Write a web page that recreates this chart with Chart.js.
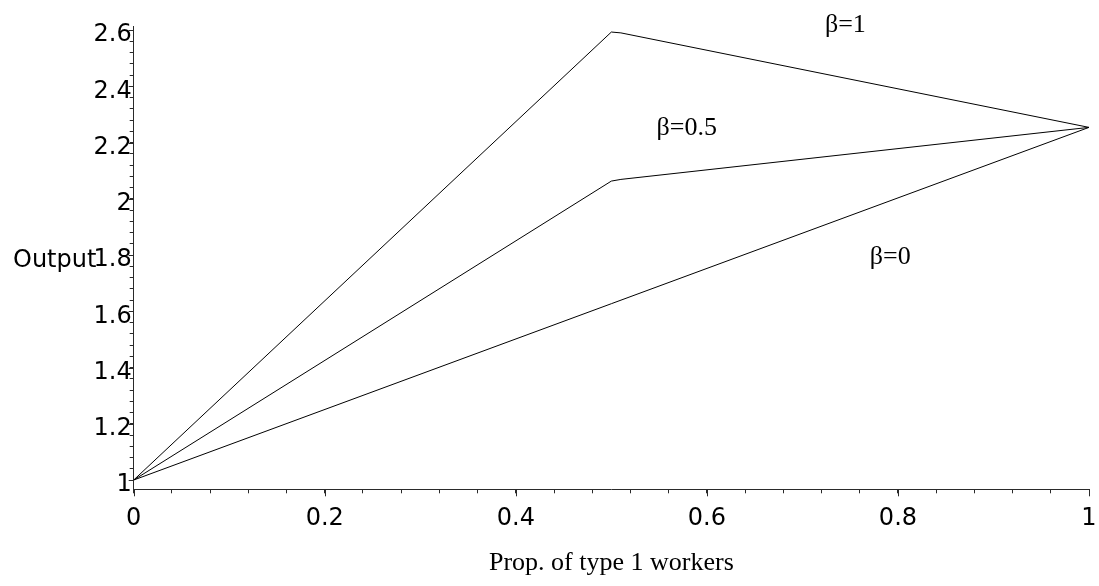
<!DOCTYPE html>
<html><head><meta charset="utf-8">
<script src="https://cdn.jsdelivr.net/npm/chart.js@4.4.1/dist/chart.umd.min.js"></script>
<style>html,body{margin:0;padding:0;background:#fff;}canvas{display:block}</style>
</head><body>
<canvas id="c" width="1099" height="586"></canvas>
<script>
// ---- data ----
const xTickLabels = ['0', '0.2', '0.4', '0.6', '0.8', '1'];
const yTickLabels = ['1', '1.2', '1.4', '1.6', '1.8', '2', '2.2', '2.4', '2.6'];

const propBeta1 = [0, 0.5, 0.51, 1];
const outputBeta1 = [1, 2.593, 2.59, 2.254];

const propBeta05 = [0, 0.5, 0.51, 1];
const outputBeta05 = [1, 2.063, 2.069, 2.254];

const propBeta0 = [0, 1];
const outputBeta0 = [1, 2.254];

const seriesNames = ['β=1', 'β=0.5', 'β=0'];
const xTitle = 'Prop. of type 1 workers';
const yTitle = 'Output';

// label anchor points (data coordinates)
const annotations = [
  { text: seriesNames[0], x: 0.745, y: 2.617 },
  { text: seriesNames[1], x: 0.579, y: 2.252 },
  { text: seriesNames[2], x: 0.792, y: 1.792 }
];

const SANS = '"DejaVu Sans", Verdana, sans-serif';
const SERIF = '"Liberation Serif", "Times New Roman", serif';
const AXIS_COLOR = '#2a2a2a';

function toPts(xs, ys) { return xs.map((x, i) => ({ x: x, y: ys[i] })); }
const xMajor = xTickLabels.map(Number);
const yMajor = yTickLabels.map(Number);
function labelFor(v, majors, labels) {
  const i = majors.findIndex(m => Math.abs(m - v) < 1e-6);
  return i >= 0 ? labels[i] : '';
}

const extras = {
  id: 'extras',
  afterDraw(chart) {
    const ctx = chart.ctx;
    const xs = chart.scales.x, ys = chart.scales.y;
    const area = chart.chartArea;
    ctx.save();
    // longer major tick marks
    ctx.strokeStyle = AXIS_COLOR;
    ctx.lineWidth = 1;
    ctx.beginPath();
    xMajor.forEach(v => {
      const px = Math.round(xs.getPixelForValue(v)) + 0.5;
      ctx.moveTo(px, area.bottom);
      ctx.lineTo(px, area.bottom + 7);
    });
    yMajor.forEach(v => {
      const py = Math.round(ys.getPixelForValue(v)) + 0.5;
      ctx.moveTo(area.left, py);
      ctx.lineTo(area.left - 5, py);
    });
    ctx.stroke();
    // y title (horizontal)
    ctx.fillStyle = '#000';
    ctx.font = '24px ' + SANS;
    ctx.textAlign = 'left';
    ctx.textBaseline = 'middle';
    ctx.fillText(yTitle, 13, ys.getPixelForValue(1.78));
    // series labels
    ctx.font = '26px ' + SERIF;
    ctx.textAlign = 'center';
    annotations.forEach(a => {
      ctx.fillText(a.text, xs.getPixelForValue(a.x), ys.getPixelForValue(a.y));
    });
    ctx.restore();
  }
};

const lineStyle = { borderColor: '#000', borderWidth: 1, pointRadius: 0, tension: 0, fill: false };

new Chart(document.getElementById('c'), {
  type: 'line',
  data: {
    datasets: [
      Object.assign({ label: seriesNames[0], data: toPts(propBeta1, outputBeta1) }, lineStyle),
      Object.assign({ label: seriesNames[1], data: toPts(propBeta05, outputBeta05) }, lineStyle),
      Object.assign({ label: seriesNames[2], data: toPts(propBeta0, outputBeta0) }, lineStyle)
    ]
  },
  options: {
    responsive: false,
    animation: false,
    events: [],
    layout: { padding: { top: 26.7, right: 10, left: 0, bottom: 0 } },
    plugins: { legend: { display: false }, tooltip: { enabled: false } },
    scales: {
      x: {
        type: 'linear', min: 0, max: 1,
        afterBuildTicks(scale) {
          const t = [];
          for (let i = 0; i <= 25; i++) t.push({ value: Math.round(i * 4) / 100 });
          scale.ticks = t;
        },
        afterFit(scale) { scale.height = 96.7; },
        grid: { display: true, drawOnChartArea: false, drawTicks: true, tickLength: 4, color: AXIS_COLOR, lineWidth: 1 },
        border: { display: true, color: AXIS_COLOR, width: 1 },
        ticks: {
          autoSkip: false, maxRotation: 0, minRotation: 0, padding: 0,
          color: '#000', font: { family: SANS, size: 24, lineHeight: '50px' },
          callback: (v) => labelFor(v, xMajor, xTickLabels)
        },
        title: {
          display: true, text: xTitle, color: '#000',
          font: { family: SERIF, size: 26, lineHeight: 1 },
          padding: { top: 0, bottom: 10 }
        }
      },
      y: {
        type: 'linear', min: 0.967, max: 2.612,
        afterBuildTicks(scale) {
          const t = [];
          for (let i = 0; i <= 40; i++) t.push({ value: Math.round(100 + i * 4) / 100 });
          scale.ticks = t;
        },
        afterFit(scale) { scale.width = 133.7; },
        grid: { display: true, drawOnChartArea: false, drawTicks: true, tickLength: 4, color: AXIS_COLOR, lineWidth: 1 },
        border: { display: true, color: AXIS_COLOR, width: 1 },
        ticks: {
          autoSkip: false, padding: -2,
          color: '#000', font: { family: SANS, size: 24, lineHeight: '10px' },
          callback: (v) => { const l = labelFor(v, yMajor, yTickLabels); return l ? ['', l] : ''; }
        }
      }
    }
  },
  plugins: [extras]
});
</script>
</body></html>
